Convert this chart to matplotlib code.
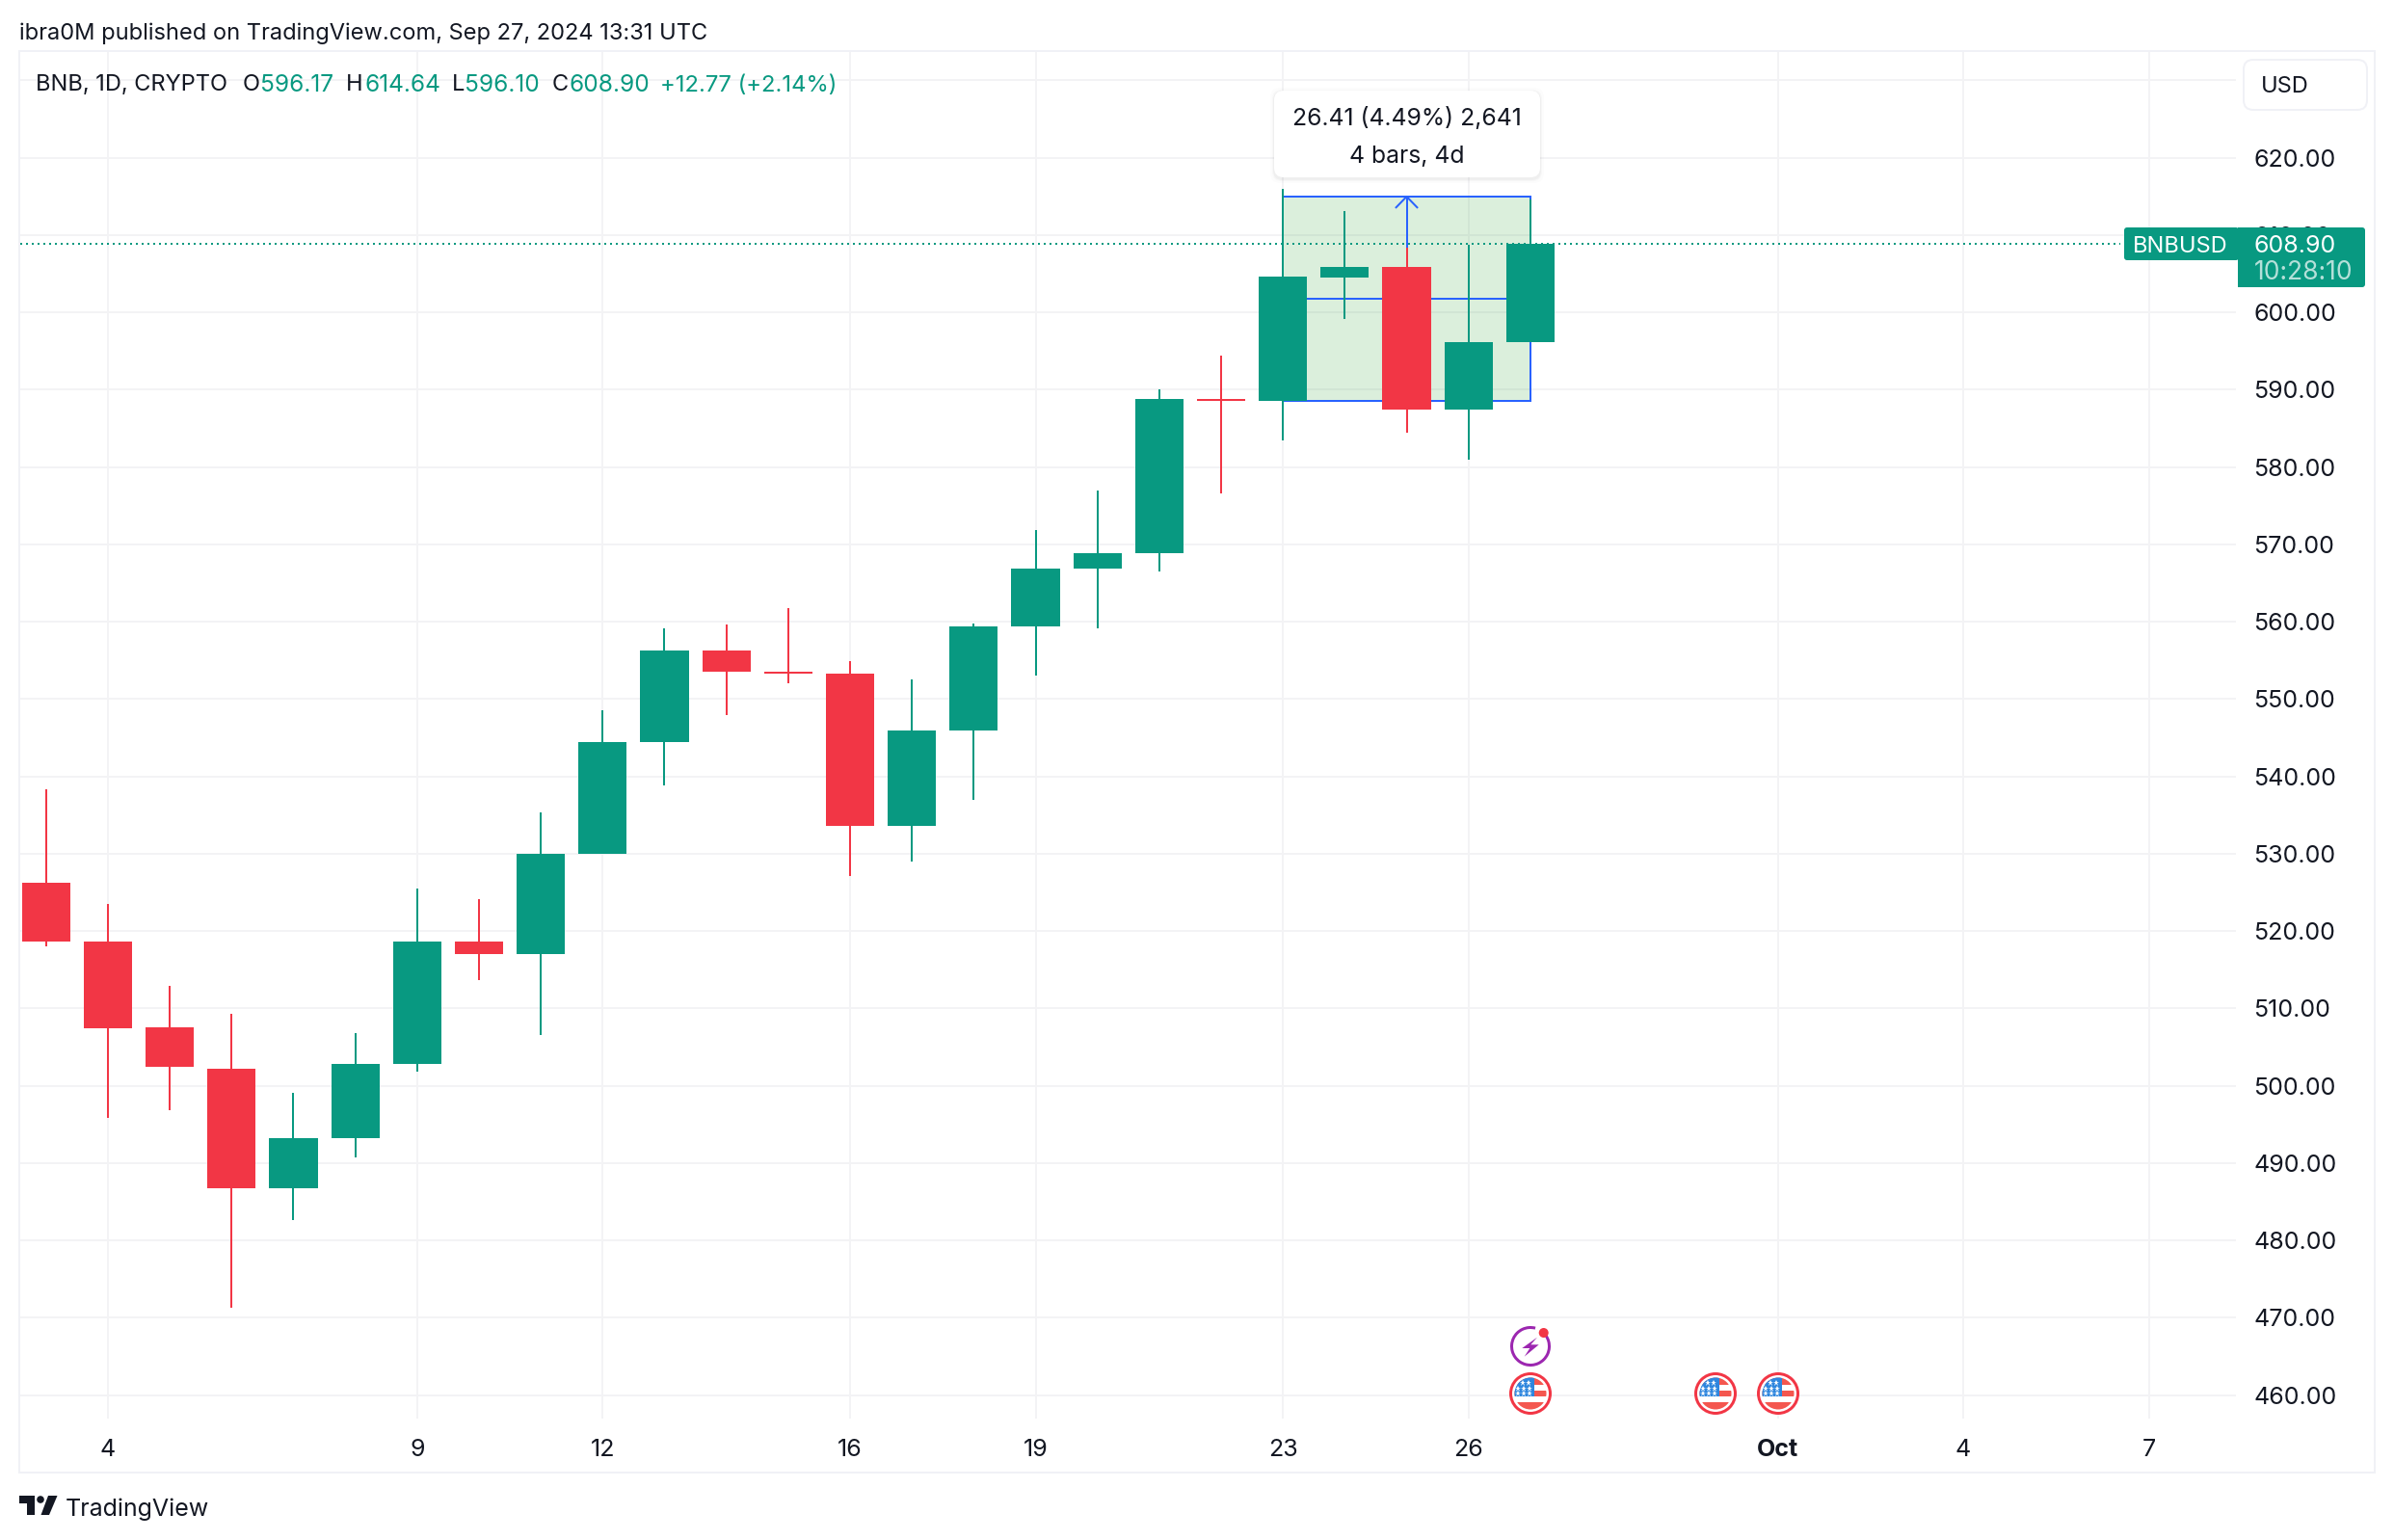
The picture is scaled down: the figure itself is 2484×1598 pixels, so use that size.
import matplotlib
matplotlib.use("Agg")
import matplotlib.pyplot as plt
from matplotlib.patches import Rectangle, FancyBboxPatch, Circle, Polygon, Arc

plt.rcParams['font.family'] = ['Inter', 'DejaVu Sans']

W, H = 2484, 1598
PX = 0.72  # points per pixel at dpi 100

GREEN = '#089981'
RED = '#F23645'
BLUE = '#2962FF'
INK = '#131722'
GRID = '#F3F3F5'
FRAME = '#F0F1F6'

# --- data -------------------------------------------------------------
days = list(range(3, 28))  # day of September 2024
opens = [526.3, 518.6, 507.6, 502.2, 486.8, 493.2, 502.8, 518.6, 517.0, 530.0, 544.4, 556.3, 553.55,
         553.3, 533.6, 546.0, 559.4, 566.9, 568.9, 588.85, 588.57, 604.5, 605.9, 587.4, 596.17]
highs = [538.3, 523.5, 512.9, 509.3, 499.1, 506.8, 525.5, 524.1, 535.4, 548.6, 559.2, 559.6, 561.8,
         554.9, 552.5, 559.8, 571.9, 577.0, 590.0, 594.4, 616.0, 613.1, 608.4, 608.7, 614.64]
lows = [518.0, 495.9, 496.9, 471.3, 482.7, 490.8, 501.8, 513.7, 506.6, 530.0, 538.9, 548.0, 552.1,
        527.1, 529.0, 537.0, 553.1, 559.2, 566.5, 576.6, 583.5, 599.2, 584.4, 581.0, 596.10]
closes = [518.6, 507.4, 502.4, 486.8, 493.2, 502.8, 518.6, 517.0, 530.0, 544.4, 556.3, 553.5, 553.3,
          533.6, 546.0, 559.4, 566.9, 568.9, 588.8, 588.6, 604.6, 605.9, 587.4, 596.2, 608.90]

price_ticks = list(range(460, 640, 10))
hidden_price_labels = [630]
date_ticks = [4, 9, 12, 16, 19, 23, 26, 31, 34, 37]
date_labels = ['4', '9', '12', '16', '19', '23', '26', 'Oct', '4', '7']

last_price = 608.90
measure_start_day = 23
measure_end_day = 27
measure_low = 588.57
measure_high = 614.98

# --- axes -------------------------------------------------------------
fig = plt.figure(figsize=(W / 100, H / 100), dpi=100, facecolor='white')
L, R, T, B = 21, 2320, 54, 1472
ax = fig.add_axes([L / W, 1 - B / H, (R - L) / W, (B - T) / H])
ax.set_xlim(2.582, 38.41)
ax.set_ylim(620 - (B - 163.7) / 8.025, 620 + (163.7 - T) / 8.025)
for s in ax.spines.values():
    s.set_visible(False)
ax.set_axisbelow(True)
ax.grid(True, color=GRID, lw=2 * PX)
ax.yaxis.tick_right()
ax.set_yticks(price_ticks)
ax.set_yticklabels(['' if p in hidden_price_labels else f'{p:.2f}' for p in price_ticks],
                   color=INK, fontsize=18)
ax.set_xticks(date_ticks)
ax.set_xticklabels(date_labels, color=INK, fontsize=18)
ax.get_xticklabels()[date_labels.index('Oct')].set_fontweight('bold')
ax.tick_params(axis='both', length=0)
ax.tick_params(axis='y', pad=13)
ax.tick_params(axis='x', pad=15)

# measure drawing
ax.add_patch(Rectangle((measure_start_day, measure_low), measure_end_day - measure_start_day,
                       measure_high - measure_low, facecolor='#4CAF50', alpha=0.2, edgecolor='none', zorder=1))
ax.plot([measure_start_day, measure_end_day, measure_end_day, measure_start_day, measure_start_day],
        [measure_high, measure_high, measure_low, measure_low, measure_high],
        color=BLUE, lw=2 * PX, zorder=2, solid_joinstyle='miter')
mid_day = (measure_start_day + measure_end_day) / 2
mid_price = (measure_low + measure_high) / 2
ax.plot([measure_start_day, measure_end_day], [mid_price, mid_price], color=BLUE, lw=2 * PX, zorder=2)
ax.plot([mid_day, mid_day], [mid_price, measure_high], color=BLUE, lw=2 * PX, zorder=2)
ax.plot([mid_day - 0.17, mid_day, mid_day + 0.17], [measure_high - 1.4, measure_high, measure_high - 1.4],
        color=BLUE, lw=2 * PX, zorder=2)

ax.axhline(last_price, color=GREEN, lw=2 * PX, ls=(0, (1, 2)), zorder=3, xmax=(2200 - L) / (R - L))

# candles
for d, o, h, l, c in zip(days, opens, highs, lows, closes):
    col = GREEN if c >= o else RED
    ax.vlines(d, l, h, color=col, lw=2 * PX, zorder=4)
    ax.bar(d, abs(c - o), bottom=min(o, c), width=0.78, color=col, lw=0, zorder=5)

# --- overlay in pixel coordinates --------------------------------------
ov = fig.add_axes([0, 0, 1, 1], facecolor='none')
ov.set_xlim(0, W)
ov.set_ylim(H, 0)
ov.axis('off')

ov.add_patch(Rectangle((20, 53), 2444, 1475, fill=False, edgecolor=FRAME, lw=2 * PX))


def txt(x, y, s, color=INK, size=17, ha='left', **kw):
    ov.text(x, y, s, color=color, fontsize=size, ha=ha, va='center_baseline', **kw)


txt(20, 32, 'ibra0M published on TradingView.com, Sep 27, 2024 13:31 UTC', size=17)

txt(37, 86, 'BNB, 1D, CRYPTO')
for x, s, col, sz in [(252, 'O', INK, 17), (270, '596.17', GREEN, 17.6), (359, 'H', INK, 17),
                      (378, '614.64', GREEN, 17.6), (469, 'L', INK, 17), (482, '596.10', GREEN, 17.6),
                      (573, 'C', INK, 17), (590, '608.90', GREEN, 17.6),
                      (685, '+12.77 (+2.14%)', GREEN, 17.2)]:
    txt(x, 86, s, color=col, size=sz)

# USD button
ov.add_patch(FancyBboxPatch((2336, 70), 112, 36, boxstyle='round,pad=8,rounding_size=10',
                            facecolor='white', edgecolor=FRAME, lw=2 * PX))
txt(2346, 87, 'USD', size=17)

# last-price labels
ov.add_patch(FancyBboxPatch((2207, 239), 113, 28, boxstyle='round,pad=3,rounding_size=3',
                            facecolor=GREEN, edgecolor='none'))
ov.add_patch(Rectangle((2312, 236), 8, 34, facecolor=GREEN, edgecolor='none'))
txt(2213, 253, 'BNBUSD', color='white', size=17)
ov.add_patch(FancyBboxPatch((2325, 239), 126, 56, boxstyle='round,pad=3,rounding_size=3',
                            facecolor=GREEN, edgecolor='none'))
ov.add_patch(Rectangle((2322, 236), 8, 62, facecolor=GREEN, edgecolor='none'))
txt(2338, 253, f'{last_price:.2f}', color='white', size=18)
txt(2339, 280, '10:28:10', color='white', size=19, alpha=0.7)

# tooltip
for grow, a in [(4, 0.012), (2, 0.02), (1, 0.03)]:
    ov.add_patch(FancyBboxPatch((1330 - grow, 103 - grow), 260 + 2 * grow, 75 + 2 * grow,
                                boxstyle='round,pad=8,rounding_size=10', facecolor='black',
                                edgecolor='none', alpha=a))
ov.add_patch(FancyBboxPatch((1330, 102), 260, 74, boxstyle='round,pad=8,rounding_size=10',
                            facecolor='white', edgecolor='none'))
txt(1460, 120, '26.41 (4.49%) 2,641', size=17.8, ha='center')
txt(1460, 160, '4 bars, 4d', size=17.8, ha='center')

# event icons
PURPLE = '#9C27B0'
ov.add_patch(Arc((1588, 1397), 39, 39, theta1=-35, theta2=285, color=PURPLE, lw=3 * PX))
ov.add_patch(Polygon([(1595, 1387.7), (1579.3, 1399), (1587.3, 1399), (1581.7, 1407.7), (1596.7, 1395.3),
                      (1588.3, 1395.3)], closed=True, facecolor=PURPLE, edgecolor='none'))
ov.add_patch(Circle((1601.7, 1383), 5, facecolor=RED, edgecolor='none'))


def flag(cx, cy):
    clip = Circle((cx, cy), 16.5, transform=ov.transData, facecolor='white', edgecolor='none')
    ov.add_patch(Circle((cx, cy), 20.5, facecolor='white', edgecolor=RED, lw=3 * PX))
    ov.add_patch(clip)
    for y0, y1 in [(-17, -9.5), (-3.5, 3.3), (9, 17)]:
        r = Rectangle((cx - 17, cy + y0), 34, y1 - y0, facecolor='#F4574F', edgecolor='none')
        ov.add_patch(r)
        r.set_clip_path(clip)
    r = Rectangle((cx - 17, cy - 17), 20.7, 20.3, facecolor='#2E86DE', edgecolor='none')
    ov.add_patch(r)
    r.set_clip_path(clip)
    for i, j in [(-8.5, -11), (-2, -11), (-13, -5), (-7, -5), (-1, -5), (-13, 0), (-7, 0), (-1, 0)]:
        ov.plot(cx + i, cy + j, marker='*', ms=4.5, color='white', mew=0)


for cx in (1588, 1780, 1845):
    flag(cx, 1446)

# TradingView logo and footer
ov.add_patch(Polygon([(20, 1552), (36, 1552), (36, 1572), (28, 1572), (28, 1560), (20, 1560)],
                     closed=True, facecolor=INK, edgecolor='none'))
ov.add_patch(Circle((42, 1556), 3.8, facecolor=INK, edgecolor='none'))
ov.add_patch(Polygon([(50, 1552), (59.5, 1552), (51, 1572), (42.5, 1572)], closed=True,
                     facecolor=INK, edgecolor='none'))
txt(68, 1564, 'TradingView', size=18)

fig.savefig('out.png', dpi=100)
